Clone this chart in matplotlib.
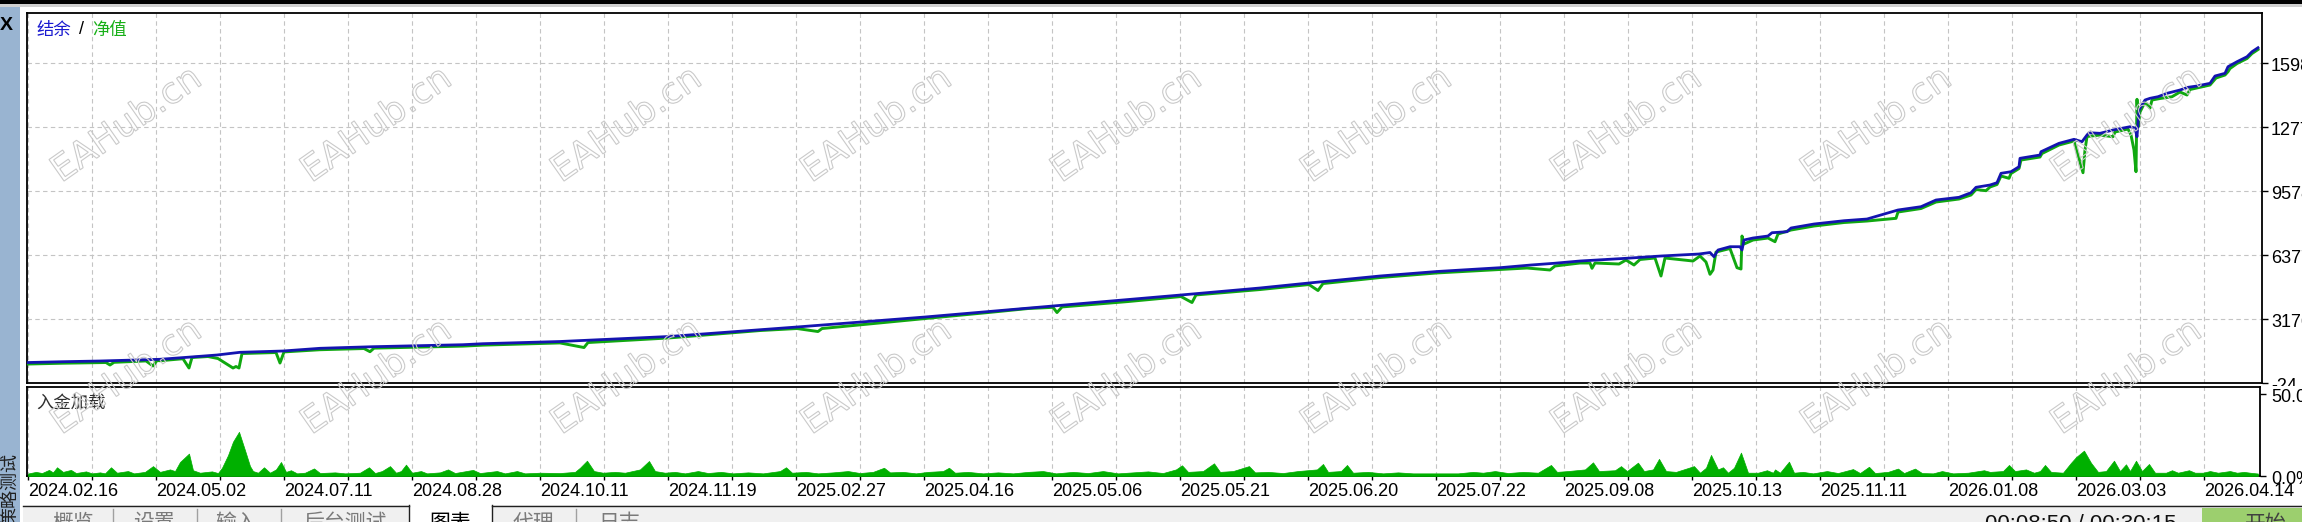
import matplotlib
matplotlib.use("Agg")
import matplotlib.pyplot as plt
from matplotlib.patches import Rectangle, PathPatch
from matplotlib.lines import Line2D
from matplotlib.textpath import TextPath
from matplotlib.font_manager import FontProperties
from matplotlib.transforms import Affine2D, Bbox, ScaledTranslation, blended_transform_factory

plt.rcParams['font.family'] = ['Liberation Sans', 'Noto Sans CJK SC', 'DejaVu Sans']
CJK = ['Noto Sans CJK SC', 'DejaVu Sans']

# ---------------- data (deal number / account value) ----------------
bal_deal = [0, 35, 72, 132, 159, 189, 212, 255, 292, 345, 435, 455, 532, 641, 769, 897,
            1025, 1153, 1232, 1281, 1352, 1409, 1472, 1503, 1526, 1552, 1598, 1633, 1671,
            1682, 1686, 1690, 1702, 1712, 1714, 1716, 1725, 1740, 1744, 1759, 1763, 1786,
            1816, 1839, 1870, 1893, 1908, 1931, 1943, 1948, 1962, 1969, 1973, 1983, 1991,
            1992, 2012, 2013, 2031, 2046, 2054, 2059, 2061, 2072, 2085, 2102, 2107, 2109,
            2111, 2117, 2122, 2130, 2139, 2152, 2160, 2169, 2182, 2187, 2197, 2200, 2209,
            2219, 2224, 2230]
bal_value = [1000, 1041, 1076, 1161, 1261, 1376, 1511, 1576, 1711, 1791, 1891, 1941, 2051,
             2301, 2776, 3276, 3827, 4377, 4727, 4977, 5327, 5552, 5742, 5877, 5962, 6077,
             6212, 6327, 6427, 6502, 6292, 6627, 6792, 6792, 6627, 7127, 7227, 7327, 7492,
             7542, 7727, 7927, 8092, 8177, 8628, 8793, 9128, 9263, 9493, 9763, 9878, 9993,
             10463, 10543, 10793, 11213, 11378, 11543, 11963, 12163, 12043, 12378, 12493,
             12463, 12628, 12793, 12728, 12293, 13629, 14129, 14214, 14294, 14464, 14629,
             14764, 14829, 14964, 15329, 15464, 15794, 16044, 16294, 16544, 16744]

eq_deal = [0, 35, 72, 78, 82, 86, 118, 125, 129, 132, 155, 161, 164, 180, 190, 198, 205,
           208, 211, 214, 248, 252, 256, 292, 336, 342, 346, 435, 455, 532, 556, 560, 641,
           732, 769, 790, 794, 897, 960, 1000, 1025, 1029, 1034, 1100, 1153, 1164, 1168,
           1232, 1281, 1290, 1295, 1352, 1409, 1472, 1499, 1522, 1527, 1552, 1562, 1564,
           1567, 1591, 1598, 1606, 1612, 1627, 1633, 1637, 1665, 1672, 1678, 1682, 1685,
           1688, 1702, 1709, 1713, 1714, 1716, 1725, 1740, 1747, 1750, 1763, 1786, 1816,
           1839, 1868, 1870, 1893, 1908, 1931, 1943, 1948, 1958, 1962, 1969, 1973, 1981,
           1983, 1991, 1993, 2012, 2014, 2031, 2046, 2055, 2057, 2059, 2072, 2085, 2087,
           2100, 2103, 2106, 2108, 2109, 2110, 2112, 2117, 2122, 2124, 2132, 2144, 2152,
           2159, 2162, 2182, 2188, 2197, 2200, 2202, 2209, 2219, 2224, 2230]
eq_value = [925, 966, 1000, 1000, 876, 1010, 1080, 826, 1100, 1090, 1190, 726, 1250, 1300,
            1200, 950, 726, 800, 726, 1450, 1500, 976, 1530, 1640, 1700, 1541, 1720, 1820,
            1870, 1980, 1750, 2000, 2230, 2600, 2700, 2550, 2700, 3200, 3500, 3700, 3760,
            3500, 3780, 4050, 4300, 4000, 4380, 4650, 4900, 4600, 4950, 5250, 5480, 5652,
            5727, 5627, 5827, 5977, 5977, 5712, 5977, 5927, 6127, 5877, 6152, 6227, 5327,
            6227, 6077, 6327, 6027, 5412, 5627, 6527, 6702, 5742, 5677, 7327, 6927, 7127,
            7227, 7042, 7427, 7627, 7827, 8002, 8077, 8212, 8527, 8702, 9028, 9178, 9378,
            9653, 9593, 9778, 9903, 10328, 10213, 10453, 10703, 11128, 11278, 11453, 11878,
            12078, 10493, 11628, 12303, 12378, 12293, 12528, 12678, 12378, 11628, 10543,
            14164, 12778, 13528, 14029, 13729, 14129, 14204, 14294, 14529, 14379, 14654,
            14879, 15229, 15379, 15544, 15704, 15954, 16204, 16454, 16654]

load_deal = [0, 8, 14, 21, 25, 29, 35, 43, 48, 58, 64, 72, 77, 83, 89, 100, 106, 117, 125,
             132, 142, 147, 152, 161, 165, 172, 184, 190, 194, 200, 205, 211, 217, 222, 225,
             230, 236, 242, 248, 253, 258, 263, 269, 277, 286, 292, 307, 317, 332, 341, 347,
             354, 362, 368, 373, 378, 384, 393, 399, 412, 420, 427, 445, 452, 469, 477, 489,
             497, 512, 532, 547, 552, 559, 566, 575, 587, 597, 612, 621, 627, 637, 647, 657,
             670, 680, 693, 705, 720, 735, 752, 758, 764, 778, 790, 805, 820, 832, 845, 856,
             862, 875, 888, 900, 915, 921, 927, 940, 955, 970, 985, 1000, 1015, 1028, 1045,
             1060, 1075, 1090, 1105, 1120, 1135, 1148, 1154, 1160, 1175, 1186, 1192, 1205,
             1221, 1227, 1240, 1255, 1270, 1289, 1295, 1300, 1313, 1319, 1325, 1340, 1355,
             1370, 1385, 1400, 1415, 1430, 1445, 1455, 1467, 1480, 1495, 1510, 1523, 1529,
             1540, 1557, 1565, 1571, 1587, 1593, 1599, 1610, 1616, 1625, 1631, 1638, 1648,
             1666, 1672, 1678, 1683, 1690, 1695, 1700, 1706, 1713, 1720, 1730, 1739, 1745,
             1747, 1752, 1761, 1766, 1775, 1785, 1799, 1810, 1825, 1832, 1841, 1847, 1860,
             1870, 1876, 1887, 1894, 1905, 1914, 1925, 1940, 1956, 1962, 1975, 1981, 1987,
             1998, 2006, 2012, 2017, 2023, 2035, 2043, 2048, 2056, 2063, 2070, 2078, 2086,
             2092, 2098, 2102, 2108, 2114, 2121, 2127, 2138, 2144, 2150, 2161, 2167, 2175,
             2182, 2190, 2196, 2202, 2209, 2216, 2222, 2230]
load_pct = [1.5, 2.5, 1.8, 3.7, 2.2, 5.3, 2.5, 3.7, 1.8, 2.8, 1.6, 2.2, 1.6, 5.3, 2, 3, 1.6,
            2.5, 6, 2.5, 4, 3, 8.5, 13.6, 3.5, 2, 2.8, 1.8, 5, 12.6, 20.8, 26.8, 15.6, 6, 3,
            2, 5.3, 2, 4, 8.5, 2.5, 3.5, 1.6, 2, 4.6, 1.8, 2.2, 1.6, 2, 5.3, 1.8, 3, 6, 2, 3,
            6.9, 2, 3, 1.6, 2.2, 4, 1.8, 3.7, 1.8, 3, 1.6, 3, 1.6, 2, 1.8, 2.5, 5, 9.3, 3, 2,
            2.5, 2, 4, 9.1, 3, 2, 2.5, 1.6, 3, 1.8, 2.5, 1.6, 2.2, 1.6, 3, 5.3, 2, 2.5, 1.6,
            2.2, 3, 1.8, 2.5, 5, 2.2, 2.5, 1.6, 2.5, 3, 5, 2, 2.5, 1.6, 2.2, 1.6, 2.5, 3, 1.6,
            2.5, 1.8, 3, 1.6, 2.2, 2.8, 1.8, 4, 6.5, 2.5, 3, 7.7, 2.5, 3, 6, 2.2, 2.5, 1.8, 3,
            4, 7.3, 2.5, 3, 6.7, 2, 2.5, 1.6, 2.2, 1.6, 1.6, 1.6, 1.6, 2.5, 2, 3, 1.8, 2.5, 2,
            6.7, 2.5, 3, 4, 8.3, 3, 3.5, 6, 3, 8.1, 3, 4, 10.4, 3, 2.5, 6, 2, 5, 12.8, 4, 5.3,
            2, 5, 14.2, 2, 2, 3.5, 2, 4, 2, 8.7, 2, 2.5, 1.6, 3, 1.8, 4.2, 1.8, 5.6, 1.8, 2.5,
            4.5, 1.8, 4.5, 1.8, 1.6, 3, 1.6, 2, 3.5, 2.5, 3, 6.7, 3, 4, 2, 3, 6.7, 2.5, 2, 8,
            11.4, 15.4, 8, 2.5, 3, 9.3, 3, 7.1, 3, 9.3, 3, 7.3, 2, 2, 3.5, 2, 3.5, 2, 2, 3, 2,
            2.5, 3, 2, 2.5, 2, 1.5]

date_labels = ['2024.02.16', '2024.05.02', '2024.07.11', '2024.08.28', '2024.10.11',
               '2024.11.19', '2025.02.27', '2025.04.16', '2025.05.06', '2025.05.21',
               '2025.06.20', '2025.07.22', '2025.09.08', '2025.10.13', '2025.11.11',
               '2026.01.08', '2026.03.03', '2026.04.14']
price_ticks = [-24, 3176.8, 6377.6, 9578.4, 12779.2, 15980.0]
price_labels = ['-24', '3176', '6377', '9578', '12779', '15980']
load_ticks = [0, 50]
load_labels = ['0.0%', '50.0%']
tab_names = ['概览', '设置', '输入', '后台测试', '图表', '代理', '日志']

BLUE = '#1414b0'
GREEN = '#10a810'
FILL = '#00b000'
GRID = '#c4c4c4'

W, H = 2302, 522
fig = plt.figure(figsize=(W / 100, H / 100), dpi=100)
fig.patch.set_facecolor('white')


def box(x0, y0, x1, y1):
    # pixel box, origin top-left -> figure rect
    return [x0 / W, 1 - y1 / H, (x1 - x0) / W, (y1 - y0) / H]


def rect(x0, y0, x1, y1, color, z=-1, **kw):
    b = box(x0, y0, x1, y1)
    fig.add_artist(Rectangle((b[0], b[1]), b[2], b[3], transform=fig.transFigure,
                             facecolor=color, edgecolor='none', zorder=z, **kw))


def hline(x0, x1, y, color, lw=1.0, z=2):
    fig.add_artist(Line2D([x0 / W, x1 / W], [1 - y / H, 1 - y / H], transform=fig.transFigure,
                          color=color, lw=lw, zorder=z))


def vline(x, y0, y1, color, lw=1.0, z=2):
    fig.add_artist(Line2D([x / W, x / W], [1 - y0 / H, 1 - y1 / H], transform=fig.transFigure,
                          color=color, lw=lw, zorder=z))


# window chrome
rect(0, 0, W, 4, '#000000')
rect(0, 4, W, 7, '#cfcfcf')
rect(0, 7, 20, H, '#99b4d1')
fig.text(6 / W, 1 - 25 / H, 'X', fontsize=14, fontweight='bold', ha='center', va='center')
fig.text(10 / W, 1 - 453 / H, '策略测试', family=CJK, fontsize=13, rotation=90,
         ha='center', va='top', color='#202020')

# ---------------- main panel ----------------
ax = fig.add_axes(box(27, 13, 2262, 383))
ax.set_xlim(-1, 2234)
ax.set_ylim(-24, -24 + 370 / 64 * 3200.8)
ax.plot(eq_deal, eq_value, color=GREEN, lw=2.1, zorder=3)
ax.plot(bal_deal, bal_value, color=BLUE, lw=2.0, zorder=4)
ax.set_xticks(range(0, 2234, 64))
ax.tick_params(axis='x', length=0, labelbottom=False)
ax.set_yticks(price_ticks)
ax.yaxis.tick_right()
ax.tick_params(axis='y', length=4, width=1, labelright=False)
ax.grid(color=GRID, linestyle=(0, (4, 3)), lw=0.8)
for s in ax.spines.values():
    s.set_linewidth(1.3)

ytr = blended_transform_factory(ax.transAxes, ax.transData) + \
    ScaledTranslation(9 / 100, -3.7 / 100, fig.dpi_scale_trans)
for v, lab in zip(price_ticks, price_labels):
    t = ax.text(1.0, v, lab, transform=ytr, ha='left', va='center', fontsize=13)
    t.set_clip_on(True)
    t.set_clip_box(Bbox.from_extents(2262, H - 386, W, H))

fig.text(36 / W, 1 - 30 / H, '结余', family=CJK, fontsize=12.5, color='#1a1ad0', va='center')
fig.text(79 / W, 1 - 30 / H, '/', fontsize=13, color='black', va='center')
fig.text(92 / W, 1 - 30 / H, '净值', family=CJK, fontsize=12.5, color='#18b018', va='center')

# ---------------- deposit load panel ----------------
ax2 = fig.add_axes(box(27, 387, 2260, 476))
ax2.set_xlim(-1, 2232)
ax2.set_ylim(0, 54)
ax2.fill_between(load_deal, 0, load_pct, color=FILL, lw=0.5, edgecolor=FILL, zorder=3)
ticks = list(range(0, 2233, 64))
ax2.set_xticks(ticks)
ax2.set_xticklabels([date_labels[i // 2] if i % 2 == 0 else '' for i in range(len(ticks))])
for lab in ax2.get_xticklabels():
    lab.set_horizontalalignment('left')
ax2.tick_params(axis='x', length=3, width=1, labelsize=13, pad=2)
ax2.set_yticks(load_ticks)
ax2.yaxis.tick_right()
ax2.tick_params(axis='y', length=4, width=1, labelright=False)
ax2.grid(axis='x', color=GRID, linestyle=(0, (4, 3)), lw=0.8)
for s in ax2.spines.values():
    s.set_linewidth(1.3)

ytr2 = blended_transform_factory(ax2.transAxes, ax2.transData) + \
    ScaledTranslation(11 / 100, -3.7 / 100, fig.dpi_scale_trans)
for v, lab in zip(load_ticks, load_labels):
    t = ax2.text(1.0, v, lab, transform=ytr2, ha='left', va='center', fontsize=13)
    t.set_clip_on(True)
    t.set_clip_box(Bbox.from_extents(2262, 0, W, H - 386))

fig.text(36 / W, 1 - 403 / H, '入金加载', family=CJK, fontsize=12.5, color='#303030', va='center')

# ---------------- watermarks ----------------
fp = FontProperties(family='DejaVu Sans')
wm = TextPath((0, 0), 'EAHub.cn', size=36, prop=fp)
ext = wm.get_extents()
for cy in (122, 374):
    for k in range(9):
        cx = 125 + 250 * k
        tr = Affine2D().translate(-(ext.x0 + ext.x1) / 2, -(ext.y0 + ext.y1) / 2) \
            .rotate_deg(35).translate(cx, H - cy)
        fig.add_artist(PathPatch(wm, transform=tr, facecolor='none', edgecolor='#cacaca',
                                 lw=0.8, zorder=6))

# ---------------- bottom tab strip ----------------
rect(23, 505, W, H, '#f0f0f0', z=1)
rect(409, 505, 492, H, '#ffffff', z=1)
hline(23, 409, 505.5, '#202020', lw=1.0)
hline(492, W, 505.5, '#202020', lw=1.0)
vline(409, 505, H, '#202020', lw=1.0)
vline(492, 505, H, '#202020', lw=1.0)
for x in (113, 197, 281, 576):
    vline(x, 509, H, '#a0a0a0', lw=1.0)
tab_x = [73, 154, 236, 345, 450, 533, 619]
for name, x in zip(tab_names, tab_x):
    fig.text(x / W, 1 - 523 / H, name, family=CJK, fontsize=15, ha='center', va='center',
             color='black' if name == '图表' else '#7a7a7a', zorder=3)
fig.text(1985 / W, 1 - 525 / H, '00:08:50 / 00:30:15', fontsize=16, ha='left', va='center',
         color='#101010', zorder=3)
rect(2202, 508, W, H, '#9ccf6e', z=2)
fig.text(2266 / W, 1 - 524 / H, '开始', family=CJK, fontsize=15, ha='center', va='center',
         color='#404040', zorder=3)

fig.savefig('out.png', dpi=100, facecolor=fig.get_facecolor())
